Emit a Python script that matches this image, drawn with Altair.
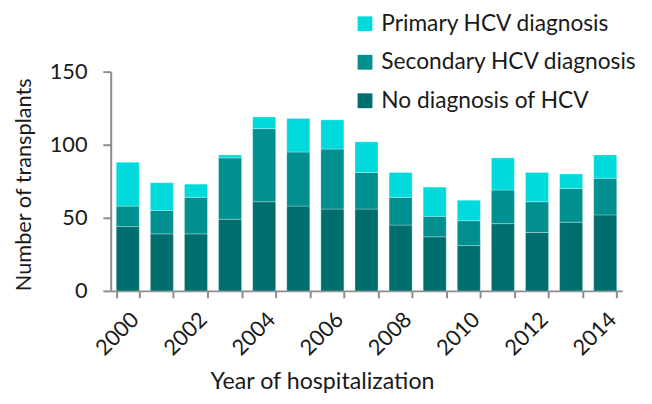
import altair as alt
import pandas as pd

years = [str(y) for y in range(2000, 2015)]
no_diag = [44, 39, 39, 49, 61, 58, 56, 56, 45, 37, 31, 46, 40, 47, 52]
secondary = [14, 16, 25, 42, 50, 37, 41, 25, 19, 14, 17, 23, 21, 23, 25]
primary = [30, 19, 9, 2, 8, 23, 20, 21, 17, 20, 14, 22, 20, 10, 16]

series = ["Primary HCV diagnosis", "Secondary HCV diagnosis", "No diagnosis of HCV"]
colors = ["#00DADA", "#009090", "#006E6E"]

rows = []
for i, y in enumerate(years):
    rows.append({"year": y, "series": series[2], "value": no_diag[i], "order": 0})
    rows.append({"year": y, "series": series[1], "value": secondary[i], "order": 1})
    rows.append({"year": y, "series": series[0], "value": primary[i], "order": 2})
df = pd.DataFrame(rows)

FONT = "Lato"

chart = alt.Chart(df).mark_bar(stroke="#ffffff", strokeOpacity=0.35, strokeWidth=0.8).encode(
    x=alt.X("year:N", sort=years,
            scale=alt.Scale(paddingInner=0.325, paddingOuter=0.1625),
            axis=alt.Axis(title="Year of hospitalization", labelAngle=-45, labelAlign="right",
                          labelBaseline="top", tickBand="extent", tickSize=7,
                          labelExpr="toNumber(datum.value) % 2 == 0 ? datum.label : ''",
                          labelPadding=11, labelFontSize=22,
                          titleX=214, titleY=99, titleBaseline="alphabetic",
                          titleAlign="center", titleFontSize=23.5)),
    y=alt.Y("value:Q", stack="zero", scale=alt.Scale(domain=[0, 150]),
            axis=alt.Axis(title="Number of transplants", values=[0, 50, 100, 150], grid=False,
                          tickSize=8, labelPadding=16, labelFontSize=22,
                          titleX=-81, titleY=114, titleBaseline="alphabetic",
                          titleAlign="center", titleAngle=270, titleFontSize=22)),
    color=alt.Color("series:N", scale=alt.Scale(domain=series, range=colors),
                    legend=alt.Legend(title=None, orient="none", legendX=246, legendY=-60,
                                      symbolType="square", symbolSize=225, symbolStrokeWidth=0,
                                      labelFontSize=23, labelFont=FONT, labelColor="#1a1a1a",
                                      rowPadding=15, labelLimit=400, labelOffset=5)),
    order=alt.Order("order:Q", sort="ascending"),
).properties(
    width=518, height=222,
    autosize=alt.AutoSizeParams(type="none"),
    padding={"left": 104, "top": 62, "right": 22, "bottom": 104},
).configure_view(stroke=None).configure_axis(
    labelFont=FONT, titleFont=FONT,
    labelColor="#1a1a1a", titleColor="#1a1a1a", titleFontWeight="normal",
    domainColor="#8c8c8c", tickColor="#8c8c8c", domainWidth=2, tickWidth=2,
)

chart.save("out.html", embed_options={"renderer": "svg", "actions": False})
